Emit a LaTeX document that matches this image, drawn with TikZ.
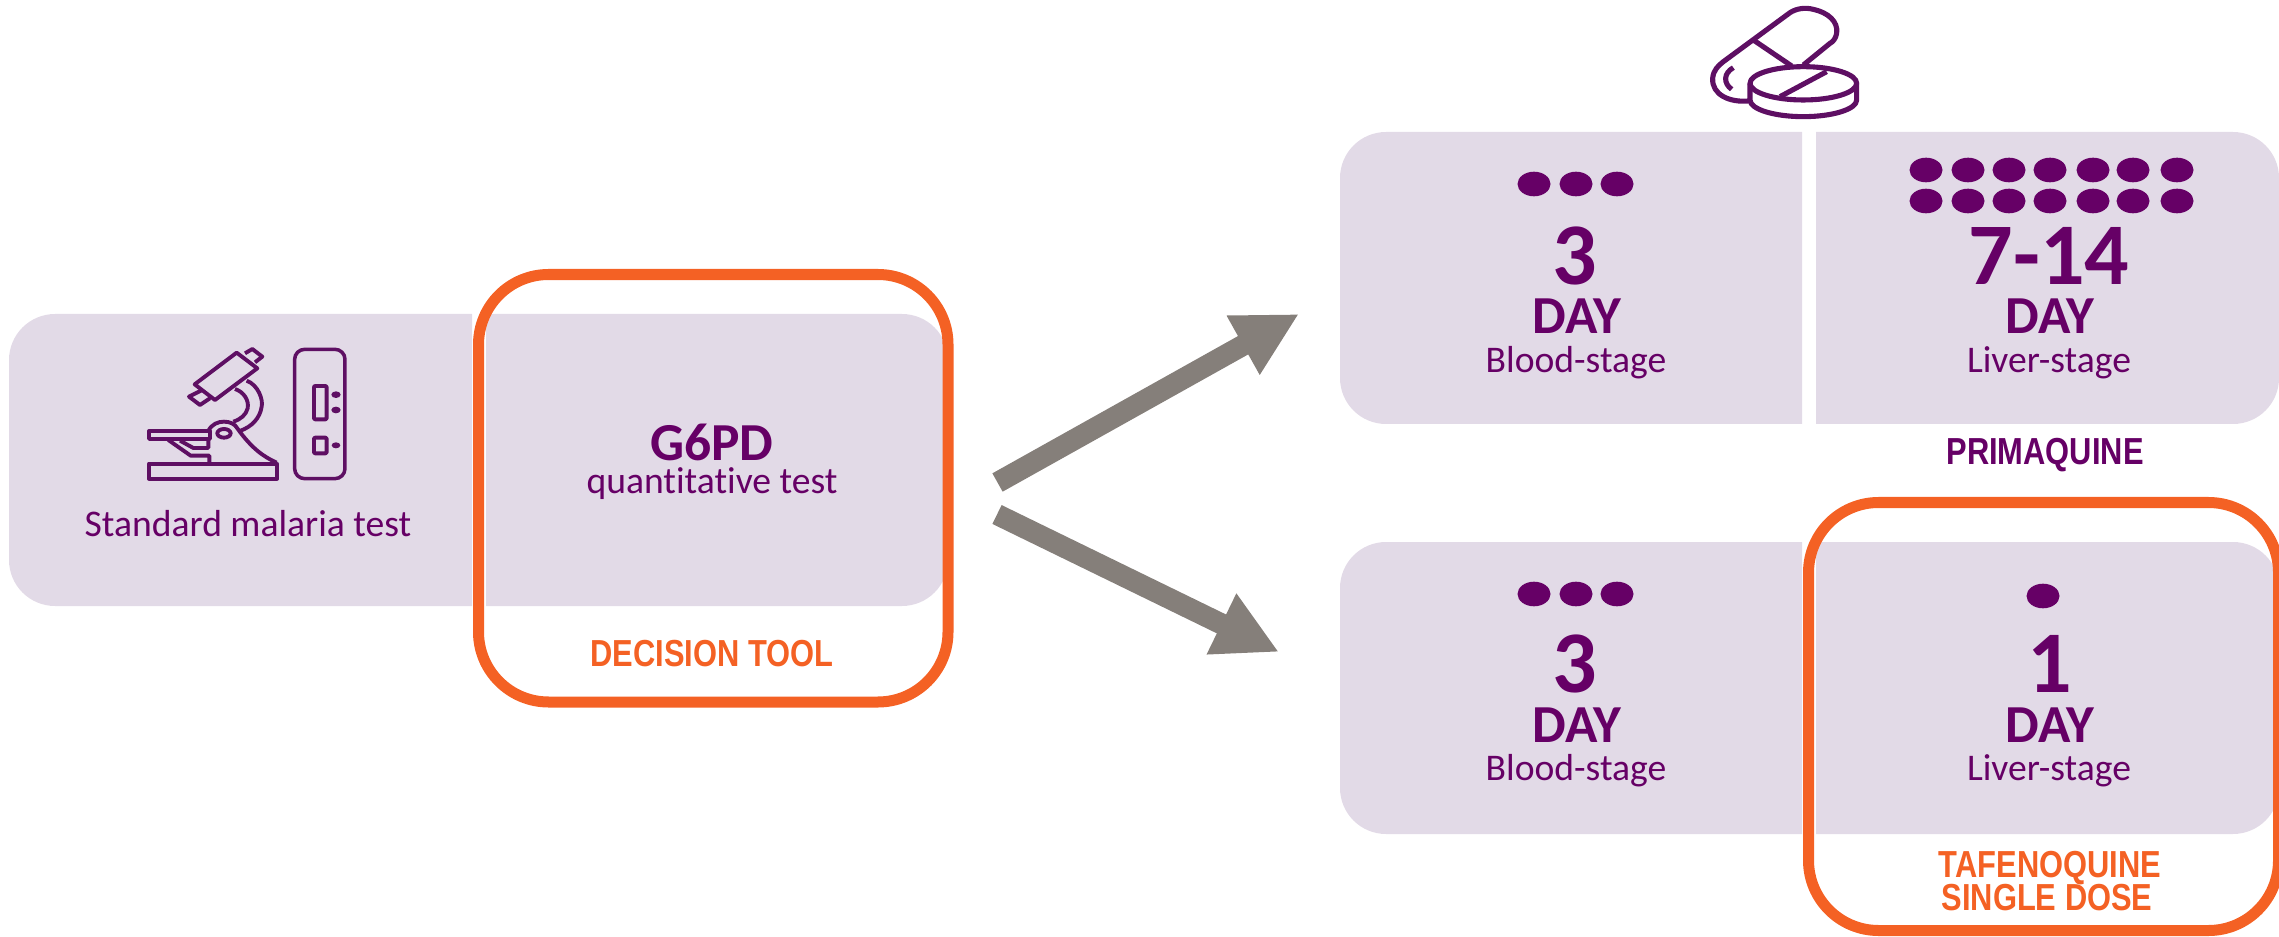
\documentclass[tikz,border=0pt]{standalone}
\usepackage{fontspec}
\setmainfont[Ligatures=NoCommon]{Carlito}
\newfontfamily\narrowfont[FakeStretch=0.82]{Liberation Sans Bold}
\usetikzlibrary{arrows.meta}
\definecolor{panelfill}{HTML}{E2DAE7}
\definecolor{plum}{HTML}{660066}
\definecolor{iconplum}{HTML}{5E0F63}
\definecolor{flame}{HTML}{F46124}
\definecolor{stone}{HTML}{857F7A}
\tikzset{
  panel/.style={fill=panelfill},
  ring/.style={draw=flame, line width=0.11cm, rounded corners=0.7cm},
  flow/.style={draw=stone, line width=0.21cm, -{Triangle[length=0.64cm,width=0.63cm]}},
  icon/.style={draw=iconplum, line width=1.1pt, line join=round},
  thinicon/.style={draw=iconplum, line width=1pt},
  numlabel/.style={anchor=base, inner sep=0, text=plum, font=\fontsize{25}{25}\selectfont\bfseries},
  daylabel/.style={anchor=base, inner sep=0, text=plum, font=\fontsize{15.2}{15}\selectfont\bfseries},
  stagelabel/.style={anchor=base, inner sep=0, text=plum, font=\fontsize{10.7}{11}\selectfont},
  druglabel/.style={anchor=base, inner sep=0, font=\fontsize{10.7}{11}\narrowfont},
}
\begin{document}
\begin{tikzpicture}[x=0.01cm, y=-0.01cm]
\useasboundingbox (0,0) rectangle (2279,937);
\fill [panel] (472,314) [rounded corners=0.46cm] -- (9,314) -- (9,606) [sharp corners] -- (472,606) -- cycle;
\fill [panel] (486,314) [rounded corners=0.46cm] -- (948,314) -- (948,606) [sharp corners] -- (486,606) -- cycle;
\fill [panel] (1802,132) [rounded corners=0.46cm] -- (1340,132) -- (1340,424) [sharp corners] -- (1802,424) -- cycle;
\fill [panel] (1816,132) [rounded corners=0.46cm] -- (2279,132) -- (2279,424) [sharp corners] -- (1816,424) -- cycle;
\fill [panel] (1802,542) [rounded corners=0.46cm] -- (1340,542) -- (1340,834) [sharp corners] -- (1802,834) -- cycle;
\fill [panel] (1816,542) [rounded corners=0.46cm] -- (2279,542) -- (2279,834) [sharp corners] -- (1816,834) -- cycle;
\draw [ring] (478.5,274.5) rectangle (948,702);
\draw [ring] (1808.5,502.5) rectangle (2278.5,930.5);
\begin{scope}[shift={(120,320)}, scale=0.3333]
\draw [icon] (87,431) rectangle (471,476);
\draw [icon] (87,333) rectangle (270,357);
\draw [icon] (265,333) .. controls (275,312) and (295,305) .. (312,305) .. controls (330,305) and (345,312) .. (352,325) .. controls (395,385) and (430,410) .. (470,428);
\draw [icon] (145,360) -- (212,407) -- (268,407) -- (268,428);
\draw [icon] (180,362) -- (220,384) -- (265,384) -- (265,360);
\draw [icon] (312,340) ellipse (20 and 13);
\draw [icon] (345,207) .. controls (370,215) and (388,240) .. (383,265) .. controls (378,285) and (362,298) .. (340,305);
\draw [icon] (380,182) .. controls (415,195) and (430,240) .. (425,260) .. controls (420,295) and (395,320) .. (362,332);
\draw [icon] (350,98) -- (412,145) -- (285,240) -- (224,193) -- cycle;
\draw [icon] (375,100) -- (397,87) -- (427,110) -- (405,127);
\draw [icon] (243,212) -- (207,230) -- (240,255) -- (270,235);
\draw [thinicon, rounded corners=0.1cm] (524,88) rectangle (675,476);
\draw [icon, rounded corners=0.01cm] (582,198) rectangle (620,298);
\draw [icon, rounded corners=0.01cm] (582,353) rectangle (620,400);
\fill [iconplum] (648,224) ellipse (14 and 10);
\fill [iconplum] (648,270) ellipse (14 and 10);
\fill [iconplum] (648,376) ellipse (13 and 9);
\end{scope}
\begin{scope}[shift={(1680,0)}, scale=0.3333]
\draw [icon, line width=1.45pt] (205,303) .. controls (150,308) and (95,285) .. (98,235) .. controls (100,210) and (115,197) .. (130,185) -- (330,38) .. controls (350,25) and (375,22) .. (400,28) .. controls (445,38) and (475,65) .. (470,100) .. controls (467,115) and (460,125) .. (450,130) -- (370,195);
\draw [icon, line width=1.45pt] (220,120) -- (335,198);
\draw [icon, line width=1.45pt] (160,203) .. controls (130,220) and (130,250) .. (155,268);
\draw [icon, line width=1.45pt] (370,250) ellipse (160 and 50);
\draw [icon, line width=1.45pt] (210,250) -- (210,300) arc [start angle=180, end angle=360, x radius=160, y radius=-50] -- (530,250);
\draw [icon, line width=1.45pt] (300,290) -- (440,215);
\end{scope}
\foreach \dotx in {1534,1576,1617} {
  \fill [plum] (\dotx,184) ellipse (16.5 and 12.3);
  \fill [plum] (\dotx,594) ellipse (16.5 and 12.3);
}
\foreach \dotx in {1926,1968,2009,2050,2093,2133,2177} {
  \fill [plum] (\dotx,170) ellipse (16.5 and 12.3);
  \fill [plum] (\dotx,201) ellipse (16.5 and 12.3);
}
\fill [plum] (2043,596) ellipse (16.5 and 12.3);
\node [stagelabel] (malariaTest) at (248,536) {Standard malaria test};
\node [daylabel] (gsixpd) at (712,460) {G6PD};
\node [stagelabel] (quantTest) at (712,493) {quantitative test};
\node [druglabel, text=flame] (decisionTool) at (712,666) {DECISION TOOL};
\node [numlabel] (threeTop) at (1575,285) {3};
\node [daylabel] (dayOne) at (1577,334) {DAY};
\node [stagelabel] (bloodTop) at (1576,373) {Blood-stage};
\node [numlabel] (sevenTop) at (2049,285) {7-14};
\node [daylabel] (dayTwo) at (2050,334) {DAY};
\node [stagelabel] (liverTop) at (2049,373) {Liver-stage};
\node [druglabel, text=plum] (primaquine) at (2045,465) {PRIMAQUINE};
\node [numlabel] (threeLow) at (1575,692) {3};
\node [daylabel] (dayThree) at (1577,742) {DAY};
\node [stagelabel] (bloodLow) at (1576,780) {Blood-stage};
\node [numlabel] (oneLow) at (2050,692) {1};
\node [daylabel] (dayFour) at (2050,742) {DAY};
\node [stagelabel] (liverLow) at (2049,780) {Liver-stage};
\node [druglabel, text=flame] (tafenoquine) at (2050,877) {TAFENOQUINE};
\node [druglabel, text=flame] (singleDose) at (2047,910) {SINGLE DOSE};
\coordinate (upTail) at (997.5,482.5);
\coordinate (upTip) at (1299,314);
\coordinate (downTail) at (997,514.5);
\coordinate (downTip) at (1279,652);
\draw [flow] (upTail) to (upTip);
\draw [flow] (downTail) to (downTip);
\end{tikzpicture}
\end{document}
